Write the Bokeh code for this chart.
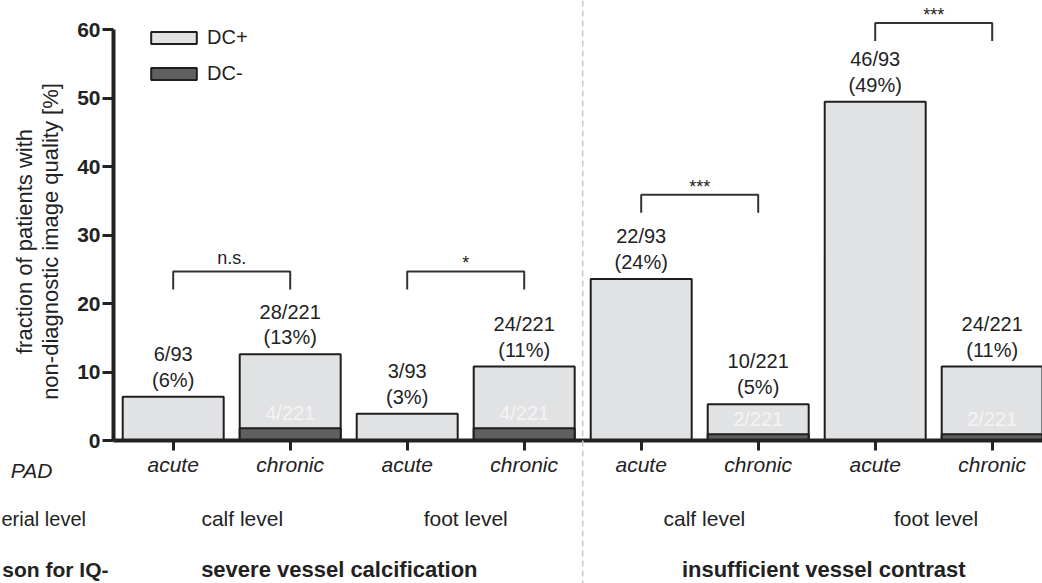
import math
from bokeh.plotting import figure
from bokeh.models import ColumnDataSource, Range1d, FixedTicker, Span, Legend, LegendItem
from bokeh.core.properties import value
from bokeh.embed import file_html
from bokeh.resources import INLINE

FONT = "Liberation Sans"
INK = "#222222"

# ---------------- data ----------------
pad_type = ["acute", "chronic", "acute", "chronic", "acute", "chronic", "acute", "chronic"]
arterial_level = ["calf level", "foot level", "calf level", "foot level"]
reason = ["severe vessel calcification", "insufficient vessel contrast"]
row_headers = ["PAD", "erial  level", "son for IQ-"]   # visible parts (cut at the left edge)
dc_total = [6.4, 12.6, 3.9, 10.8, 23.6, 5.3, 49.5, 10.8]     # DC+ bar height [%]
dc_minus = [0.0, 1.8, 0.0, 1.8, 0.0, 0.9, 0.0, 0.9]          # DC- part [%]
count_labels = ["6/93", "28/221", "3/93", "24/221", "22/93", "10/221", "46/93", "24/221"]
pct_labels = ["(6%)", "(13%)", "(3%)", "(11%)", "(24%)", "(5%)", "(49%)", "(11%)"]
dc_minus_labels = ["", "4/221", "", "4/221", "", "2/221", "", "2/221"]
y_ticks = [0, 10, 20, 30, 40, 50, 60]
sig_pairs = [(0, 1), (2, 3), (4, 5), (6, 7)]
sig_height = [24.7, 24.7, 35.9, 61.0]
sig_text = ["n.s.", "*", "***", "***"]

# ---------------- layout constants ----------------
W, H = 1042, 583
X0_PX, Y0_PX = 172.7, 440.0   # pixel position of category 0 / value 0
PX_X = 117.0                  # pixels per category
PX_Y = 6.845                  # pixels per percent
BAR_W = 0.863
AXIS_X = (113 - X0_PX) / PX_X
x_range = Range1d(-X0_PX / PX_X, (W - X0_PX) / PX_X)
y_range = Range1d(-(H - Y0_PX) / PX_Y, Y0_PX / PX_Y)

idx = list(range(len(pad_type)))

p = figure(width=W, height=H, output_backend="svg", toolbar_location=None,
           x_range=x_range, y_range=y_range, min_border=0,
           background_fill_color="white", border_fill_color="white")
p.outline_line_color = None
p.xgrid.visible = False
p.ygrid.visible = False

# ---------------- bars ----------------
src = ColumnDataSource(dict(x=idx, top=dc_total,
                            cnt=[c + "\n" + q for c, q in zip(count_labels, pct_labels)]))
r_plus = p.vbar(x="x", top="top", bottom=0, width=BAR_W, source=src,
                fill_color="#e1e2e4", line_color="#1e1e1e", line_width=2)

p.text(x="x", y="top", text="cnt", source=src, text_align="center", text_baseline="bottom",
       y_offset=-6, text_font=value(FONT), text_font_size="20px", text_color=INK,
       text_line_height=1.17)

mi = [i for i in idx if dc_minus[i] > 0]
msrc = ColumnDataSource(dict(x=mi, top=[dc_minus[i] for i in mi],
                             lab=[dc_minus_labels[i] for i in mi]))
p.text(x="x", y="top", text="lab", source=msrc, text_align="center", text_baseline="bottom",
       y_offset=-4, text_font=value(FONT), text_font_size="20px", text_color="#f4f4f4")
r_minus = p.vbar(x="x", top="top", bottom=0, width=BAR_W, source=msrc,
                 fill_color="#606060", line_color="#1e1e1e", line_width=2)

# ---------------- significance brackets ----------------
drop = 18 / PX_Y
bx, by = [], []
for (a, b), h in zip(sig_pairs, sig_height):
    bx.append([a, a, b, b])
    by.append([h - drop, h, h, h - drop])
p.multi_line(xs=bx, ys=by, line_color="#333333", line_width=2)

ns_i = [k for k, t in enumerate(sig_text) if t == "n.s."]
st_i = [k for k, t in enumerate(sig_text) if t != "n.s."]
mid = [(a + b) / 2 for a, b in sig_pairs]
p.text(x=[mid[k] for k in ns_i], y=[sig_height[k] for k in ns_i], text=[sig_text[k] for k in ns_i],
       text_align="center", text_baseline="bottom", y_offset=-3,
       text_font=value(FONT), text_font_size="18px", text_color=INK)
p.text(x=[mid[k] for k in st_i], y=[sig_height[k] for k in st_i], text=[sig_text[k] for k in st_i],
       text_align="center", text_baseline="bottom", y_offset=2,
       text_font=value(FONT), text_font_size="18px", text_color=INK)

# ---------------- separator ----------------
p.add_layout(Span(location=(3 + 4) / 2, dimension="height", line_color="#c8c8c8",
                  line_dash="6 4", line_width=1.5))

# ---------------- axes ----------------
ya = p.yaxis[0]
ya.fixed_location = AXIS_X
ya.bounds = (0, 60)
ya.ticker = FixedTicker(ticks=y_ticks)
ya.axis_line_width = 4
ya.axis_line_color = INK
ya.major_tick_line_width = 3
ya.major_tick_line_color = INK
ya.major_tick_out = 11
ya.major_tick_in = 0
ya.minor_tick_line_color = None
ya.major_label_standoff = 2
ya.major_label_text_font = FONT
ya.major_label_text_font_style = "bold"
ya.major_label_text_font_size = "21px"
ya.major_label_text_color = INK

xa = p.xaxis[0]
xa.fixed_location = 0
xa.bounds = (AXIS_X, 8)
xa.ticker = FixedTicker(ticks=idx)
xa.major_label_overrides = {i: t for i, t in zip(idx, pad_type)}
xa.axis_line_width = 4
xa.axis_line_color = INK
xa.major_tick_line_width = 3
xa.major_tick_line_color = INK
xa.major_tick_out = 10
xa.major_tick_in = 0
xa.minor_tick_line_color = None
xa.major_label_standoff = 2
xa.major_label_text_font = FONT
xa.major_label_text_font_style = "italic"
xa.major_label_text_font_size = "21px"
xa.major_label_text_color = INK

# y axis title (two lines, rotated)
p.text(x=[(37 - X0_PX) / PX_X], y=[(Y0_PX - 241) / PX_Y],
       text=["fraction of patients with\nnon-diagnostic image quality [%]"],
       angle=math.pi / 2, text_align="center", text_baseline="middle",
       text_font=value(FONT), text_font_size="22px", text_color=INK, text_line_height=1.05)

# ---------------- lower annotation rows ----------------
row_pad = -(470 - Y0_PX) / PX_Y
row_level = -(518 - Y0_PX) / PX_Y
row_reason = -(569 - Y0_PX) / PX_Y

p.text(x=[0.59, 2.5, 4.54, 6.52], y=[row_level] * 4, text=arterial_level,
       text_align="center", text_baseline="middle",
       text_font=value(FONT), text_font_size="21px", text_color=INK)
p.text(x=[1.42, 5.56], y=[row_reason] * 2, text=reason,
       text_align="center", text_baseline="middle",
       text_font=value(FONT), text_font_size="22px", text_font_style="bold", text_color=INK)

# left-hand row headers
p.text(x=[(31 - X0_PX) / PX_X], y=[row_pad], text=[row_headers[0]], text_align="center",
       text_baseline="middle", text_font=value(FONT), text_font_size="21px",
       text_font_style="italic", text_color=INK)
p.text(x=[(91 - X0_PX) / PX_X], y=[row_level], text=[row_headers[1]], text_align="right",
       text_baseline="middle", text_font=value(FONT), text_font_size="20px", text_color=INK)
p.text(x=[(108 - X0_PX) / PX_X], y=[row_reason], text=[row_headers[2]], text_align="right",
       text_baseline="middle", text_font=value(FONT), text_font_size="21px",
       text_font_style="bold", text_color=INK)

# ---------------- legend ----------------
legend = Legend(items=[LegendItem(label="DC+", renderers=[r_plus]),
                       LegendItem(label="DC-", renderers=[r_minus])],
                location=(145, 498), glyph_width=57, glyph_height=15,
                label_text_font=FONT, label_text_font_size="20px", label_text_color=INK,
                label_standoff=5, label_height=20, spacing=13, padding=0, margin=0,
                border_line_color=None, background_fill_alpha=0)
p.add_layout(legend)

open("out.html", "w").write(file_html(p, INLINE))
